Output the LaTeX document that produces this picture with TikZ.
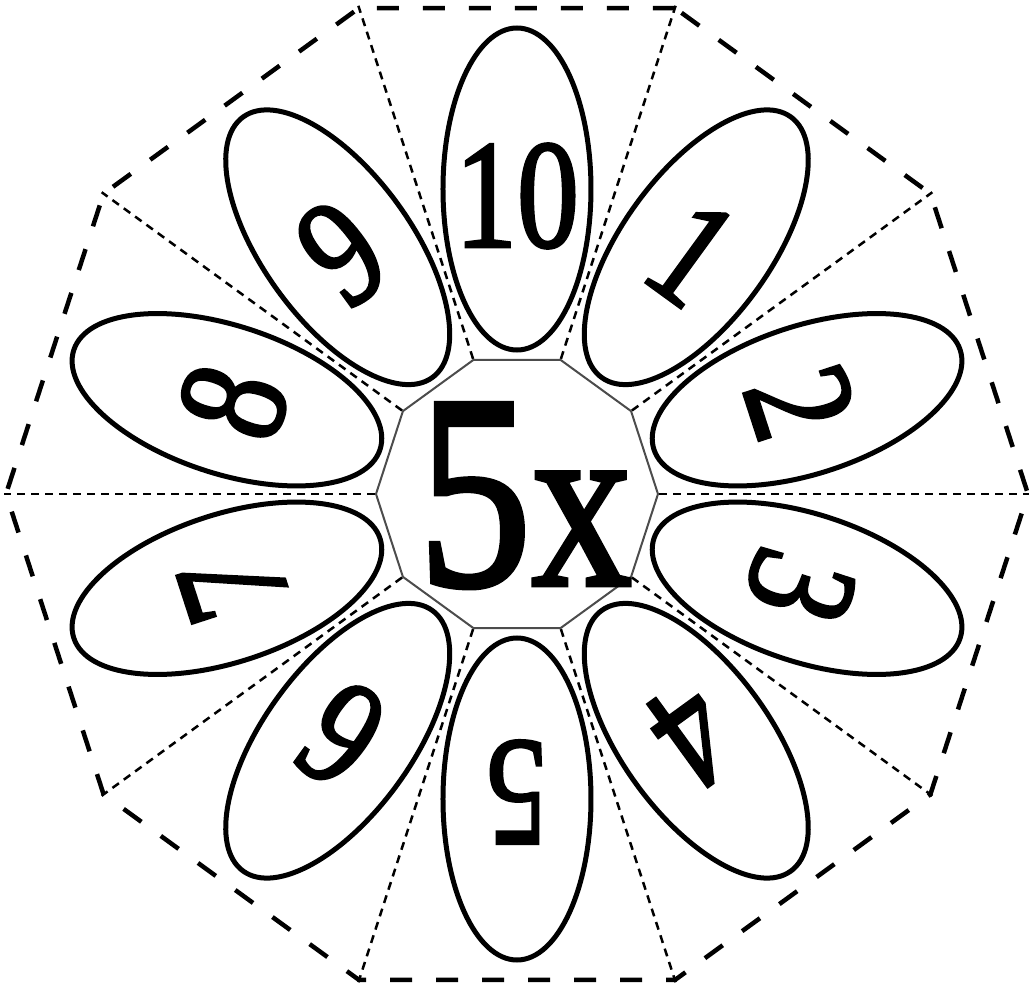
\documentclass[tikz,border=0pt]{standalone}
\usepackage{fontspec}
\setmainfont{Liberation Serif}
\newfontfamily\petalfont[FakeBold=2]{Liberation Serif}
\usetikzlibrary{shapes.geometric,backgrounds}

\begin{document}
\begin{tikzpicture}[x=1pt,y=1pt,
    petal/.style={draw, ellipse, line width=5pt, fill=white, inner sep=0pt,
                  minimum width=148pt, minimum height=322pt},
    spoke/.style={line width=2.5pt, dash pattern=on 8pt off 6pt},
    digit/.style={font=\petalfont\fontsize{155}{160}\selectfont, inner sep=0pt}]
    \useasboundingbox (-517,-500) rectangle (512,494);

    % Outer dashed decagon
    \node[draw, regular polygon, regular polygon sides=10, minimum size=1022pt,
          inner sep=0pt, line width=4.5pt, dash pattern=on 22pt off 24pt] (rim) at (0,0) {};

    % Petals with the multipliers
    \foreach \n/\a in {10/90, 1/54, 2/18, 3/-18, 4/-54, 5/-90, 6/-126, 7/-162, 8/162, 9/126} {
        \node[petal, rotate=\a-90] (p\n) at (\a:305) {};
        \node[digit, rotate=\a-90, xscale=0.8] (d\n) at (\a:298) {\n};
    }

    % Centre
    \node[draw=black!70, fill=white, line width=2pt, regular polygon, regular polygon sides=10,
          minimum size=282pt, inner sep=0pt] (hub) at (0,0) {};
    \node[anchor=base, inner sep=0pt, xscale=0.82, font=\petalfont] (times) at (8,-91)
        {\fontsize{277}{280}\selectfont 5\fontsize{245}{250}\selectfont x};

    % Spokes from centre to the rim corners
    \begin{scope}[on background layer]
        \foreach \k in {1,...,10}
            \draw[spoke] (hub.corner \k) -- (rim.corner \k);
    \end{scope}
\end{tikzpicture}
\end{document}
